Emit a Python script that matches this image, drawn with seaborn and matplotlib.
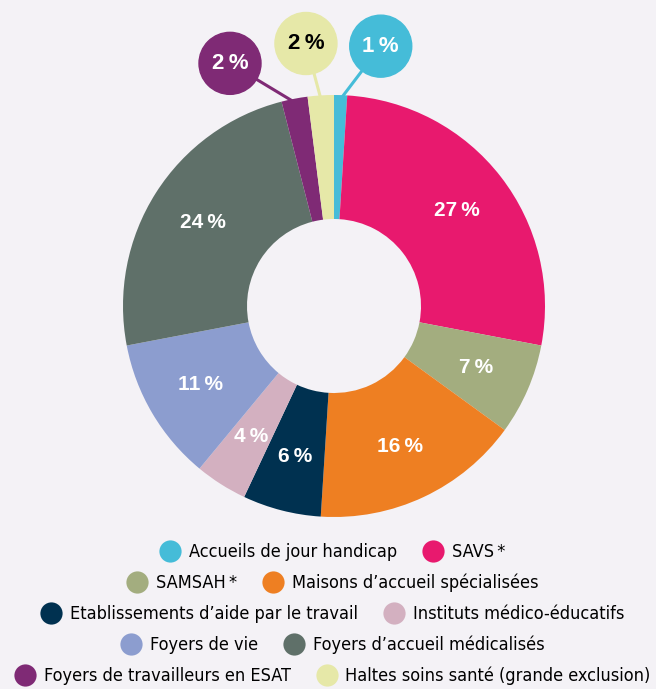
import numpy as np
import matplotlib
matplotlib.use("Agg")
import matplotlib.pyplot as plt
import seaborn as sns
from matplotlib import font_manager
from matplotlib.font_manager import FontProperties
from matplotlib.lines import Line2D
from matplotlib.patches import Circle

# donnees
categories = ["Accueils de jour handicap", "SAVS\u2009*", "SAMSAH\u2009*",
              "Maisons d\u2019accueil spécialisées",
              "Etablissements d\u2019aide par le travail",
              "Instituts médico-éducatifs", "Foyers de vie",
              "Foyers d\u2019accueil médicalisés",
              "Foyers de travailleurs en ESAT",
              "Haltes soins santé (grande exclusion)"]
valeurs = [1, 27, 7, 16, 6, 4, 11, 24, 2, 2]
culori = ["#45BCD8", "#E8196E", "#A3AD7F", "#EE7F22", "#003150",
          "#D3B0C0", "#8C9DCF", "#5F7069", "#7F2A75", "#E6E8A8"]
# parts affichees dans une bulle et couleur du texte
bulles = [0, 9, 8]
couleur_texte_bulle = {0: "white", 9: "black", 8: "white"}

fond = "#F4F2F6"
sns.set_theme(style="white", rc={"figure.facecolor": fond, "axes.facecolor": fond,
                                 "text.color": "black"})
plt.rcParams["font.family"] = ["Liberation Sans", "DejaVu Sans"]

# police etroite pour la legende
dispo = {(f.name, f.stretch) for f in font_manager.fontManager.ttflist}
if ("Liberation Sans Narrow", "condensed") in dispo or ("Liberation Sans Narrow", "normal") in dispo:
    police_leg = FontProperties(family="Liberation Sans Narrow")
else:
    police_leg = FontProperties(family="DejaVu Sans", stretch="condensed")

fig = plt.figure(figsize=(6.56, 6.89), dpi=100)
ax = fig.add_axes([0, 0, 1, 1])

# taille de police choisie pour que le plus long libelle fasse ~305 px
rend = fig.canvas.get_renderer()
police_leg.set_size(15)
larg, _, _ = rend.get_text_width_height_descent(categories[-1], police_leg, ismath=False)
police_leg.set_size(15 * 305 / larg)

cx, cy = 334, 689 - 306
r_ext, r_int = 211, 87
wedges, _ = ax.pie(valeurs, colors=culori, startangle=90, counterclock=False,
                   radius=r_ext, center=(cx, cy),
                   wedgeprops=dict(width=r_ext - r_int, linewidth=0))

# etiquettes dans l'anneau
for i, w in enumerate(wedges):
    if i in bulles:
        continue
    a = np.deg2rad((w.theta1 + w.theta2) / 2)
    r = 155
    ax.text(cx + r * np.cos(a), cy + r * np.sin(a), f"{valeurs[i]}\u2009%",
            ha="center", va="center", color="white", fontsize=15,
            fontweight="bold")

# bulles pour les petites parts
angles_bulle = {0: 79.8, 9: 96.1, 8: 113.2}
dist_bulle, r_bulle = 264, 31
for i in bulles:
    w = wedges[i]
    a = np.deg2rad((w.theta1 + w.theta2) / 2)
    b = np.deg2rad(angles_bulle[i])
    bx, by = cx + dist_bulle * np.cos(b), cy + dist_bulle * np.sin(b)
    ax.plot([bx, cx + (r_ext - 4) * np.cos(a)], [by, cy + (r_ext - 4) * np.sin(a)],
            color=culori[i], lw=2.2, zorder=1, solid_capstyle="butt")
    ax.add_patch(Circle((bx, by), r_bulle, color=culori[i], zorder=3))
    ax.text(bx, by, f"{valeurs[i]}\u2009%", ha="center", va="center",
            color=couleur_texte_bulle[i], fontsize=16, fontweight="bold",
            zorder=4)

ax.set_xlim(0, 656)
ax.set_ylim(0, 689)
ax.set_aspect("equal")
ax.axis("off")

# legende : 5 lignes de 2 elements
rangees = [0.199, 0.154, 0.109, 0.064, 0.019]
for k, y in enumerate(rangees):
    idx = [2 * k, 2 * k + 1]
    handles = [Line2D([], [], marker="o", linestyle="none", markersize=16,
                      markerfacecolor=culori[j], markeredgewidth=0) for j in idx]
    leg = fig.legend(handles, [categories[j] for j in idx], ncol=2,
                     loc="center", bbox_to_anchor=(0.508, y), frameon=False,
                     prop=police_leg, handlelength=1.0, handletextpad=0.55,
                     columnspacing=1.5, borderpad=0, borderaxespad=0)
    for t in leg.get_texts():
        t.set_color("black")

plt.savefig("out.png", dpi=100, facecolor=fond)
